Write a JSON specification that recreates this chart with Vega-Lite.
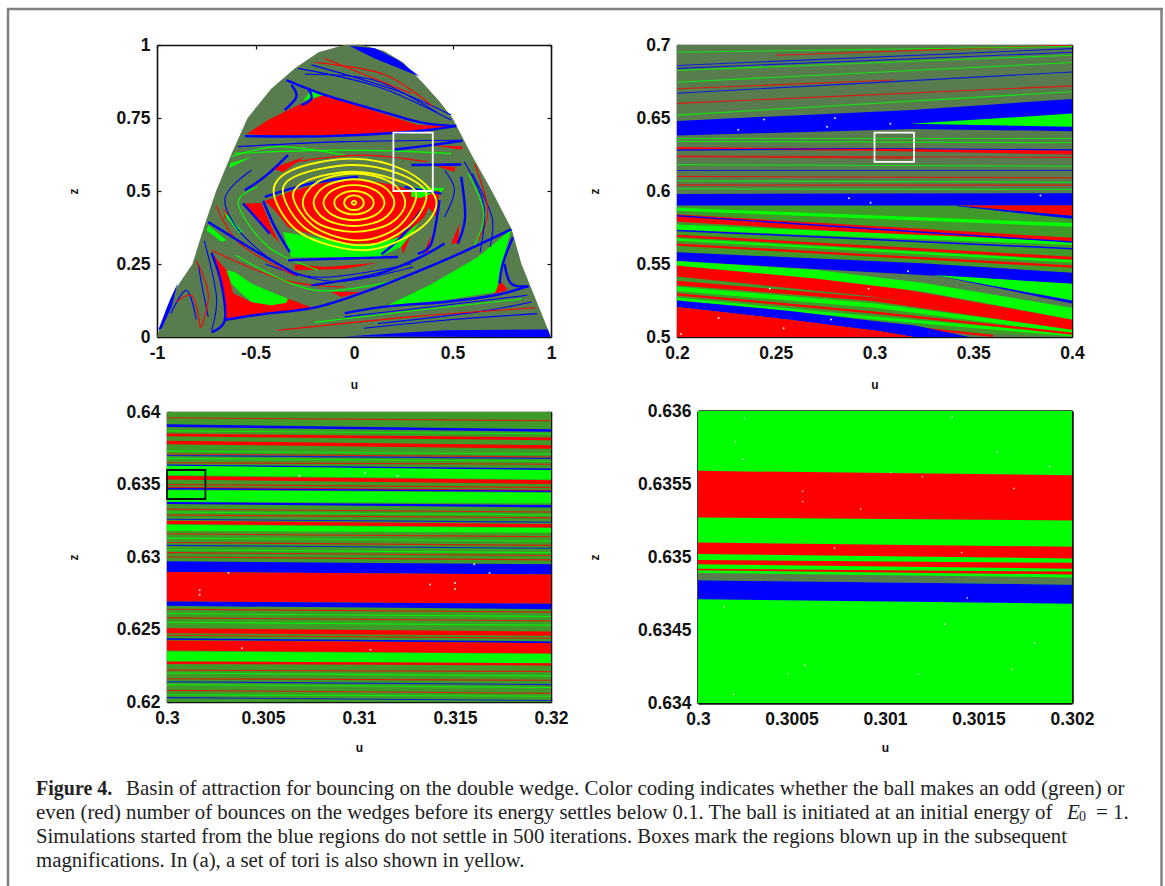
{"$schema":"https://vega.github.io/schema/vega-lite/v6.json","padding":{"left":5,"top":7,"right":0,"bottom":0},"background":"white","columns":2,"bounds":"flush","spacing":{"column":126,"row":74},
"config":{"view":{"stroke":null},"axis":{"labelFont":"Liberation Sans","labelFontWeight":"bold","labelFontSize":17.5,"labelColor":"#111","tickColor":"#111","tickSize":-4,"tickWidth":1.2,"domainColor":"#111","domainWidth":1.6,"grid":false,"zindex":1,"titleFont":"Liberation Sans","titleFontSize":12,"titleFontWeight":"bold","titleColor":"#111","labelPadding":11,"labelFlush":false,"labelOverlap":false,"labelBound":false,"labelExpr":"''+datum.value"}},
"datasets":{
"aPoly":[
{"s":"a0","c":"noise","i":0,"u":-1,"z":0},{"s":"a0","c":"noise","i":1,"u":-0.95,"z":0.1},{"s":"a0","c":"noise","i":2,"u":-0.9,"z":0.17},{"s":"a0","c":"noise","i":3,"u":-0.82,"z":0.25},{"s":"a0","c":"noise","i":4,"u":-0.76,"z":0.38},{"s":"a0","c":"noise","i":5,"u":-0.7,"z":0.5},{"s":"a0","c":"noise","i":6,"u":-0.62,"z":0.63},{"s":"a0","c":"noise","i":7,"u":-0.54,"z":0.75},{"s":"a0","c":"noise","i":8,"u":-0.42,"z":0.85},{"s":"a0","c":"noise","i":9,"u":-0.3,"z":0.92},{"s":"a0","c":"noise","i":10,"u":-0.18,"z":0.975},{"s":"a0","c":"noise","i":11,"u":-0.05,"z":1},{"s":"a0","c":"noise","i":12,"u":0.05,"z":0.998},{"s":"a0","c":"noise","i":13,"u":0.15,"z":0.98},{"s":"a0","c":"noise","i":14,"u":0.25,"z":0.94},{"s":"a0","c":"noise","i":15,"u":0.35,"z":0.87},{"s":"a0","c":"noise","i":16,"u":0.43,"z":0.81},{"s":"a0","c":"noise","i":17,"u":0.5,"z":0.75},{"s":"a0","c":"noise","i":18,"u":0.6,"z":0.62},{"s":"a0","c":"noise","i":19,"u":0.7,"z":0.5},{"s":"a0","c":"noise","i":20,"u":0.8,"z":0.37},{"s":"a0","c":"noise","i":21,"u":0.85,"z":0.25},{"s":"a0","c":"noise","i":22,"u":0.94,"z":0.1},{"s":"a0","c":"noise","i":23,"u":1,"z":0},
{"s":"a1","c":"none","i":0,"u":-0.022,"z":0.997},{"s":"a1","c":"none","i":1,"u":0.105,"z":0.989},{"s":"a1","c":"none","i":2,"u":0.223,"z":0.949},{"s":"a1","c":"none","i":3,"u":0.333,"z":0.892},{"s":"a1","c":"none","i":4,"u":0.206,"z":0.926},{"s":"a1","c":"none","i":5,"u":0.105,"z":0.954},
{"s":"a2","c":"none","i":0,"u":-0.047,"z":0.002},{"s":"a2","c":"none","i":1,"u":0.46,"z":0.023},{"s":"a2","c":"none","i":2,"u":0.984,"z":0.026},{"s":"a2","c":"none","i":3,"u":0.997,"z":0},
{"s":"a3","c":"none","i":0,"u":-0.994,"z":0.023},{"s":"a3","c":"none","i":1,"u":-0.935,"z":0.126},{"s":"a3","c":"none","i":2,"u":-0.896,"z":0.183},{"s":"a3","c":"none","i":3,"u":-0.926,"z":0.103},{"s":"a3","c":"none","i":4,"u":-0.977,"z":0.029},
{"s":"a4","c":"even","i":0,"u":-0.546,"z":0.695},{"s":"a4","c":"even","i":1,"u":-0.436,"z":0.743},{"s":"a4","c":"even","i":2,"u":-0.284,"z":0.794},{"s":"a4","c":"even","i":3,"u":-0.157,"z":0.829},{"s":"a4","c":"even","i":4,"u":-0.047,"z":0.806},{"s":"a4","c":"even","i":5,"u":0.088,"z":0.777},{"s":"a4","c":"even","i":6,"u":0.206,"z":0.752},{"s":"a4","c":"even","i":7,"u":0.324,"z":0.726},{"s":"a4","c":"even","i":8,"u":0.51,"z":0.723},{"s":"a4","c":"even","i":9,"u":0.324,"z":0.709},{"s":"a4","c":"even","i":10,"u":0.122,"z":0.697},{"s":"a4","c":"even","i":11,"u":-0.132,"z":0.692},{"s":"a4","c":"even","i":12,"u":-0.385,"z":0.69},
{"s":"a5","c":"odd","i":0,"u":-0.259,"z":0.809},{"s":"a5","c":"odd","i":1,"u":-0.216,"z":0.846},{"s":"a5","c":"odd","i":2,"u":-0.154,"z":0.829},
{"s":"a6","c":"even","i":0,"u":-0.723,"z":0.288},{"s":"a6","c":"even","i":1,"u":-0.647,"z":0.229},{"s":"a6","c":"even","i":2,"u":-0.613,"z":0.149},{"s":"a6","c":"even","i":3,"u":-0.521,"z":0.12},{"s":"a6","c":"even","i":4,"u":-0.419,"z":0.109},{"s":"a6","c":"even","i":5,"u":-0.335,"z":0.131},{"s":"a6","c":"even","i":6,"u":-0.208,"z":0.099},{"s":"a6","c":"even","i":7,"u":-0.453,"z":0.08},{"s":"a6","c":"even","i":8,"u":-0.656,"z":0.055},{"s":"a6","c":"even","i":9,"u":-0.664,"z":0.149},
{"s":"a7","c":"odd","i":0,"u":-0.647,"z":0.229},{"s":"a7","c":"odd","i":1,"u":-0.605,"z":0.223},{"s":"a7","c":"odd","i":2,"u":-0.521,"z":0.183},{"s":"a7","c":"odd","i":3,"u":-0.419,"z":0.154},{"s":"a7","c":"odd","i":4,"u":-0.335,"z":0.131},{"s":"a7","c":"odd","i":5,"u":-0.343,"z":0.117},{"s":"a7","c":"odd","i":6,"u":-0.419,"z":0.109},{"s":"a7","c":"odd","i":7,"u":-0.521,"z":0.12},{"s":"a7","c":"odd","i":8,"u":-0.58,"z":0.154},{"s":"a7","c":"odd","i":9,"u":-0.622,"z":0.183},
{"s":"a8","c":"odd","i":0,"u":0.172,"z":0.109},{"s":"a8","c":"odd","i":1,"u":0.392,"z":0.181},{"s":"a8","c":"odd","i":2,"u":0.629,"z":0.274},{"s":"a8","c":"odd","i":3,"u":0.798,"z":0.368},{"s":"a8","c":"odd","i":4,"u":0.755,"z":0.263},{"s":"a8","c":"odd","i":5,"u":0.722,"z":0.154},{"s":"a8","c":"odd","i":6,"u":0.46,"z":0.126},
{"s":"a9","c":"even","i":0,"u":0.713,"z":0.146},{"s":"a9","c":"even","i":1,"u":0.744,"z":0.192},{"s":"a9","c":"even","i":2,"u":0.781,"z":0.162},
{"s":"b0","c":"odd","i":0,"u":-0.36,"z":0.36},{"s":"b0","c":"odd","i":1,"u":-0.216,"z":0.343},{"s":"b0","c":"odd","i":2,"u":-0.047,"z":0.32},{"s":"b0","c":"odd","i":3,"u":0.122,"z":0.32},{"s":"b0","c":"odd","i":4,"u":0.257,"z":0.349},{"s":"b0","c":"odd","i":5,"u":0.358,"z":0.411},{"s":"b0","c":"odd","i":6,"u":0.384,"z":0.463},{"s":"b0","c":"odd","i":7,"u":0.316,"z":0.377},{"s":"b0","c":"odd","i":8,"u":0.24,"z":0.309},{"s":"b0","c":"odd","i":9,"u":0.122,"z":0.272},{"s":"b0","c":"odd","i":10,"u":-0.047,"z":0.274},{"s":"b0","c":"odd","i":11,"u":-0.318,"z":0.272},{"s":"b0","c":"odd","i":12,"u":-0.343,"z":0.32},
{"s":"b1","c":"even","i":0,"u":-0.453,"z":0.466},{"s":"b1","c":"even","i":1,"u":-0.301,"z":0.503},{"s":"b1","c":"even","i":2,"u":-0.149,"z":0.528},{"s":"b1","c":"even","i":3,"u":0.02,"z":0.543},{"s":"b1","c":"even","i":4,"u":0.206,"z":0.52},{"s":"b1","c":"even","i":5,"u":0.401,"z":0.48},{"s":"b1","c":"even","i":6,"u":0.358,"z":0.411},{"s":"b1","c":"even","i":7,"u":0.257,"z":0.349},{"s":"b1","c":"even","i":8,"u":0.122,"z":0.32},{"s":"b1","c":"even","i":9,"u":-0.047,"z":0.32},{"s":"b1","c":"even","i":10,"u":-0.216,"z":0.352},{"s":"b1","c":"even","i":11,"u":-0.335,"z":0.377},{"s":"b1","c":"even","i":12,"u":-0.402,"z":0.434},
{"s":"b2","c":"odd","i":0,"u":0.291,"z":0.514},{"s":"b2","c":"odd","i":1,"u":0.46,"z":0.51},{"s":"b2","c":"odd","i":2,"u":0.41,"z":0.47},{"s":"b2","c":"odd","i":3,"u":0.29,"z":0.48},
{"s":"b3","c":"even","i":0,"u":-0.563,"z":0.457},{"s":"b3","c":"even","i":1,"u":-0.47,"z":0.459},{"s":"b3","c":"even","i":2,"u":-0.419,"z":0.377},{"s":"b3","c":"even","i":3,"u":-0.377,"z":0.32},{"s":"b3","c":"even","i":4,"u":-0.461,"z":0.383},
{"s":"b4","c":"even","i":0,"u":0.316,"z":0.469},{"s":"b4","c":"even","i":1,"u":0.434,"z":0.503},{"s":"b4","c":"even","i":2,"u":0.417,"z":0.411},{"s":"b4","c":"even","i":3,"u":0.375,"z":0.446},
{"s":"b5","c":"even","i":0,"u":-0.301,"z":0.249},{"s":"b5","c":"even","i":1,"u":-0.149,"z":0.24},{"s":"b5","c":"even","i":2,"u":0.122,"z":0.254},{"s":"b5","c":"even","i":3,"u":-0.047,"z":0.233},{"s":"b5","c":"even","i":4,"u":-0.301,"z":0.229},
{"s":"b6","c":"even","i":0,"u":0.392,"z":0.657},{"s":"b6","c":"even","i":1,"u":0.553,"z":0.652},{"s":"b6","c":"even","i":2,"u":0.544,"z":0.642},
{"s":"b7","c":"even","i":0,"u":0.417,"z":0.586},{"s":"b7","c":"even","i":1,"u":0.514,"z":0.583},{"s":"b7","c":"even","i":2,"u":0.51,"z":0.566},
{"s":"b8","c":"even","i":0,"u":0.536,"z":0.389},{"s":"b8","c":"even","i":1,"u":0.493,"z":0.32},{"s":"b8","c":"even","i":2,"u":0.527,"z":0.32},
{"s":"b9","c":"even","i":0,"u":-0.419,"z":0.577},{"s":"b9","c":"even","i":1,"u":-0.25,"z":0.617},{"s":"b9","c":"even","i":2,"u":-0.36,"z":0.565},
{"s":"c0","c":"even","i":0,"u":-0.115,"z":0.154},{"s":"c0","c":"even","i":1,"u":0.037,"z":0.154},{"s":"c0","c":"even","i":2,"u":-0.064,"z":0.137},
{"s":"c1","c":"even","i":0,"u":-0.665,"z":0.44},{"s":"c1","c":"even","i":1,"u":-0.64,"z":0.42},{"s":"c1","c":"even","i":2,"u":-0.655,"z":0.405},
{"s":"c2","c":"even","i":0,"u":0.358,"z":0.291},{"s":"c2","c":"even","i":1,"u":0.392,"z":0.354},{"s":"c2","c":"even","i":2,"u":0.375,"z":0.286},
{"s":"c3","c":"even","i":0,"u":0.24,"z":0.309},{"s":"c3","c":"even","i":1,"u":0.29,"z":0.349},{"s":"c3","c":"even","i":2,"u":0.25,"z":0.285},
{"s":"c4","c":"odd","i":0,"u":-0.74,"z":0.383},{"s":"c4","c":"odd","i":1,"u":-0.647,"z":0.331},{"s":"c4","c":"odd","i":2,"u":-0.673,"z":0.326},{"s":"c4","c":"odd","i":3,"u":-0.749,"z":0.366},
{"s":"c5","c":"odd","i":0,"u":-0.665,"z":0.434},{"s":"c5","c":"odd","i":1,"u":-0.563,"z":0.36},{"s":"c5","c":"odd","i":2,"u":-0.58,"z":0.354},{"s":"c5","c":"odd","i":3,"u":-0.648,"z":0.411},
{"s":"c6","c":"odd","i":0,"u":-0.63,"z":0.594},{"s":"c6","c":"odd","i":1,"u":-0.52,"z":0.617},{"s":"c6","c":"odd","i":2,"u":-0.63,"z":0.58}
],
"aThick":[
{"l":"L1","i":0,"u":-0.343,"z":0.88},{"l":"L1","i":1,"u":-0.149,"z":0.829},{"l":"L1","i":2,"u":0.054,"z":0.789},{"l":"L1","i":3,"u":0.257,"z":0.749},{"l":"L1","i":4,"u":0.392,"z":0.729},{"l":"L1","i":5,"u":0.519,"z":0.723},
{"l":"L2","i":0,"u":-0.554,"z":0.688},{"l":"L2","i":1,"u":-0.132,"z":0.688},{"l":"L2","i":2,"u":0.291,"z":0.703},{"l":"L2","i":3,"u":0.519,"z":0.722},
{"l":"L3","i":0,"u":0.206,"z":0.642},{"l":"L3","i":1,"u":0.392,"z":0.657},{"l":"L3","i":2,"u":0.55,"z":0.672},
{"l":"L4","i":0,"u":0.291,"z":0.589},{"l":"L4","i":1,"u":0.544,"z":0.591},
{"l":"L5","i":0,"u":-0.554,"z":0.503},{"l":"L5","i":1,"u":-0.453,"z":0.549},{"l":"L5","i":2,"u":-0.335,"z":0.623},
{"l":"L6","i":0,"u":-0.563,"z":0.457},{"l":"L6","i":1,"u":-0.487,"z":0.4},{"l":"L6","i":2,"u":-0.428,"z":0.354},
{"l":"L7","i":0,"u":-0.461,"z":0.466},{"l":"L7","i":1,"u":-0.402,"z":0.377},{"l":"L7","i":2,"u":-0.326,"z":0.291},
{"l":"L8","i":0,"u":-0.74,"z":0.394},{"l":"L8","i":1,"u":-0.521,"z":0.303},{"l":"L8","i":2,"u":-0.284,"z":0.211},
{"l":"L9","i":0,"u":-0.723,"z":0.288},{"l":"L9","i":1,"u":-0.673,"z":0.183},{"l":"L9","i":2,"u":-0.656,"z":0.057},{"l":"L9","i":3,"u":-0.723,"z":0.017},
{"l":"L10","i":0,"u":-0.656,"z":0.059},{"l":"L10","i":1,"u":-0.47,"z":0.078},{"l":"L10","i":2,"u":-0.183,"z":0.103},{"l":"L10","i":3,"u":0.122,"z":0.171},{"l":"L10","i":4,"u":0.46,"z":0.263},{"l":"L10","i":5,"u":0.798,"z":0.369},
{"l":"L11","i":0,"u":0.885,"z":0.174},{"l":"L11","i":1,"u":0.713,"z":0.143},{"l":"L11","i":2,"u":0.46,"z":0.12},{"l":"L11","i":3,"u":0.172,"z":0.105},{"l":"L11","i":4,"u":-0.047,"z":0.082},
{"l":"L12","i":0,"u":0.806,"z":0.341},{"l":"L12","i":1,"u":0.755,"z":0.251},{"l":"L12","i":2,"u":0.739,"z":0.183},
{"l":"L13","i":0,"u":0.544,"z":0.549},{"l":"L13","i":1,"u":0.564,"z":0.411},{"l":"L13","i":2,"u":0.527,"z":0.32},
{"l":"L14","i":0,"u":0.434,"z":0.469},{"l":"L14","i":1,"u":0.392,"z":0.32},{"l":"L14","i":2,"u":0.324,"z":0.286},
{"l":"L15","i":0,"u":0.341,"z":0.434},{"l":"L15","i":1,"u":0.24,"z":0.343},{"l":"L15","i":2,"u":0.139,"z":0.283},
{"l":"L16","i":0,"u":-0.335,"z":0.263},{"l":"L16","i":1,"u":-0.047,"z":0.269},{"l":"L16","i":2,"u":0.223,"z":0.274},
{"l":"L17","i":0,"u":-0.216,"z":0.177},{"l":"L17","i":1,"u":0.122,"z":0.217},{"l":"L17","i":2,"u":0.324,"z":0.269},{"l":"L17","i":3,"u":0.46,"z":0.32},
{"l":"L18","i":0,"u":-0.453,"z":0.48},{"l":"L18","i":1,"u":-0.216,"z":0.526},{"l":"L18","i":2,"u":0.02,"z":0.549},
{"l":"L19","i":0,"u":0.257,"z":0.514},{"l":"L19","i":1,"u":0.443,"z":0.491},
{"l":"L20","i":0,"u":-0.318,"z":0.863},{"l":"L20","i":1,"u":-0.292,"z":0.823},{"l":"L20","i":2,"u":-0.352,"z":0.777},
{"l":"L21","i":0,"u":-0.233,"z":0.852},{"l":"L21","i":1,"u":-0.216,"z":0.817},{"l":"L21","i":2,"u":-0.267,"z":0.794},
{"l":"L22","i":0,"u":0.764,"z":0.251},{"l":"L22","i":1,"u":0.798,"z":0.183},{"l":"L22","i":2,"u":0.885,"z":0.174}
],
"aThin":[
{"l":"T1","c":"none","i":0,"u":-0.284,"z":0.92},{"l":"T1","c":"none","i":1,"u":0.122,"z":0.857},{"l":"T1","c":"none","i":2,"u":0.493,"z":0.743},
{"l":"T2","c":"none","i":0,"u":-0.216,"z":0.932},{"l":"T2","c":"none","i":1,"u":0.206,"z":0.846},{"l":"T2","c":"none","i":2,"u":0.493,"z":0.76},
{"l":"T3","c":"even","i":0,"u":-0.149,"z":0.954},{"l":"T3","c":"even","i":1,"u":0.291,"z":0.834},
{"l":"T4","c":"none","i":0,"u":-0.59,"z":0.652},{"l":"T4","c":"none","i":1,"u":-0.047,"z":0.669},{"l":"T4","c":"none","i":2,"u":0.544,"z":0.674},
{"l":"T5","c":"odd","i":0,"u":-0.605,"z":0.629},{"l":"T5","c":"odd","i":1,"u":-0.047,"z":0.64},{"l":"T5","c":"odd","i":2,"u":0.493,"z":0.629},
{"l":"T6","c":"none","i":0,"u":-0.79,"z":0.25},{"l":"T6","c":"none","i":1,"u":-0.774,"z":0.183},{"l":"T6","c":"none","i":2,"u":-0.74,"z":0.069},
{"l":"T7","c":"none","i":0,"u":-0.76,"z":0.33},{"l":"T7","c":"none","i":1,"u":-0.698,"z":0.137},{"l":"T7","c":"none","i":2,"u":-0.723,"z":0.023},
{"l":"T8","c":"even","i":0,"u":-0.8,"z":0.26},{"l":"T8","c":"even","i":1,"u":-0.74,"z":0.149},{"l":"T8","c":"even","i":2,"u":-0.774,"z":0.034},
{"l":"T9","c":"none","i":0,"u":-0.047,"z":0.069},{"l":"T9","c":"none","i":1,"u":0.46,"z":0.109},{"l":"T9","c":"none","i":2,"u":0.88,"z":0.143},
{"l":"T10","c":"none","i":0,"u":0.122,"z":0.046},{"l":"T10","c":"none","i":1,"u":0.629,"z":0.086},{"l":"T10","c":"none","i":2,"u":0.9,"z":0.12},
{"l":"T11","c":"even","i":0,"u":-0.385,"z":0.023},{"l":"T11","c":"even","i":1,"u":0.291,"z":0.069},{"l":"T11","c":"even","i":2,"u":0.92,"z":0.1},
{"l":"T12","c":"none","i":0,"u":0.6,"z":0.56},{"l":"T12","c":"none","i":1,"u":0.7,"z":0.411},{"l":"T12","c":"none","i":2,"u":0.69,"z":0.309},
{"l":"T13","c":"even","i":0,"u":0.612,"z":0.594},{"l":"T13","c":"even","i":1,"u":0.679,"z":0.434},{"l":"T13","c":"even","i":2,"u":0.629,"z":0.331},
{"l":"T14","c":"none","i":0,"u":-0.521,"z":0.571},{"l":"T14","c":"none","i":1,"u":-0.656,"z":0.469},{"l":"T14","c":"none","i":2,"u":-0.521,"z":0.32},{"l":"T14","c":"none","i":3,"u":-0.216,"z":0.206},{"l":"T14","c":"none","i":4,"u":0.291,"z":0.251},
{"l":"T15","c":"odd","i":0,"u":-0.487,"z":0.514},{"l":"T15","c":"odd","i":1,"u":-0.588,"z":0.457},{"l":"T15","c":"odd","i":2,"u":-0.436,"z":0.309},{"l":"T15","c":"odd","i":3,"u":-0.183,"z":0.229},
{"l":"T16","c":"even","i":0,"u":-0.723,"z":0.297},{"l":"T16","c":"even","i":1,"u":-0.352,"z":0.194},{"l":"T16","c":"even","i":2,"u":-0.047,"z":0.171},
{"l":"T18","c":"none","i":0,"u":0.46,"z":0.411},{"l":"T18","c":"none","i":1,"u":0.51,"z":0.503},{"l":"T18","c":"none","i":2,"u":0.46,"z":0.571},
{"l":"T19","c":"odd","i":0,"u":-0.622,"z":0.617},{"l":"T19","c":"odd","i":1,"u":-0.385,"z":0.652},{"l":"T19","c":"odd","i":2,"u":-0.047,"z":0.623},
{"l":"T20","c":"even","i":0,"u":-0.301,"z":0.6},{"l":"T20","c":"even","i":1,"u":0.037,"z":0.623},{"l":"T20","c":"even","i":2,"u":0.375,"z":0.6},
{"l":"T21","c":"none","i":0,"u":-0.25,"z":0.9},{"l":"T21","c":"none","i":1,"u":0.1,"z":0.88},{"l":"T21","c":"none","i":2,"u":0.42,"z":0.77},
{"l":"T22","c":"even","i":0,"u":-0.2,"z":0.94},{"l":"T22","c":"even","i":1,"u":0.15,"z":0.9},{"l":"T22","c":"even","i":2,"u":0.4,"z":0.79},
{"l":"T24","c":"none","i":0,"u":-0.93,"z":0.08},{"l":"T24","c":"none","i":1,"u":-0.85,"z":0.16},{"l":"T24","c":"none","i":2,"u":-0.8,"z":0.06},
{"l":"T25","c":"even","i":0,"u":-0.9,"z":0.12},{"l":"T25","c":"even","i":1,"u":-0.82,"z":0.14},{"l":"T25","c":"even","i":2,"u":-0.78,"z":0.03},
{"l":"T26","c":"none","i":0,"u":0.05,"z":0.03},{"l":"T26","c":"none","i":1,"u":0.5,"z":0.06},{"l":"T26","c":"none","i":2,"u":0.93,"z":0.08},
{"l":"T27","c":"odd","i":0,"u":-0.2,"z":0.05},{"l":"T27","c":"odd","i":1,"u":0.3,"z":0.09},{"l":"T27","c":"odd","i":2,"u":0.85,"z":0.13},
{"l":"T28","c":"none","i":0,"u":0.56,"z":0.6},{"l":"T28","c":"none","i":1,"u":0.66,"z":0.45},{"l":"T28","c":"none","i":2,"u":0.64,"z":0.29},
{"l":"T29","c":"odd","i":0,"u":0.58,"z":0.56},{"l":"T29","c":"odd","i":1,"u":0.66,"z":0.42},{"l":"T29","c":"odd","i":2,"u":0.6,"z":0.3},
{"l":"T30","c":"none","i":0,"u":-0.45,"z":0.25},{"l":"T30","c":"none","i":1,"u":-0.1,"z":0.19},{"l":"T30","c":"none","i":2,"u":0.3,"z":0.24},
{"l":"T31","c":"odd","i":0,"u":-0.6,"z":0.28},{"l":"T31","c":"odd","i":1,"u":-0.2,"z":0.16},{"l":"T31","c":"odd","i":2,"u":0.25,"z":0.2},
{"l":"T32","c":"even","i":0,"u":-0.7,"z":0.45},{"l":"T32","c":"even","i":1,"u":-0.58,"z":0.32},{"l":"T32","c":"even","i":2,"u":-0.3,"z":0.21}
],
"aTori":[
{"l":"R0","i":0,"u":0.012,"z":0.46},{"l":"R0","i":1,"u":0,"z":0.467},{"l":"R0","i":2,"u":-0.012,"z":0.46},{"l":"R0","i":3,"u":0,"z":0.453},
{"l":"R1","i":0,"u":0.05,"z":0.46},{"l":"R1","i":1,"u":0.035,"z":0.478},{"l":"R1","i":2,"u":0,"z":0.485},{"l":"R1","i":3,"u":-0.035,"z":0.478},{"l":"R1","i":4,"u":-0.05,"z":0.46},{"l":"R1","i":5,"u":-0.035,"z":0.442},{"l":"R1","i":6,"u":0,"z":0.435},{"l":"R1","i":7,"u":0.035,"z":0.442},
{"l":"R2","i":0,"u":0.1,"z":0.46},{"l":"R2","i":1,"u":0.07,"z":0.488},{"l":"R2","i":2,"u":0,"z":0.5},{"l":"R2","i":3,"u":-0.07,"z":0.488},{"l":"R2","i":4,"u":-0.1,"z":0.46},{"l":"R2","i":5,"u":-0.07,"z":0.432},{"l":"R2","i":6,"u":0,"z":0.42},{"l":"R2","i":7,"u":0.07,"z":0.432},
{"l":"R3","i":0,"u":0.155,"z":0.46},{"l":"R3","i":1,"u":0.11,"z":0.502},{"l":"R3","i":2,"u":0,"z":0.52},{"l":"R3","i":3,"u":-0.11,"z":0.502},{"l":"R3","i":4,"u":-0.155,"z":0.46},{"l":"R3","i":5,"u":-0.11,"z":0.418},{"l":"R3","i":6,"u":0,"z":0.4},{"l":"R3","i":7,"u":0.11,"z":0.418},
{"l":"R4","i":0,"u":0.205,"z":0.46},{"l":"R4","i":1,"u":0.145,"z":0.517},{"l":"R4","i":2,"u":0,"z":0.54},{"l":"R4","i":3,"u":-0.145,"z":0.517},{"l":"R4","i":4,"u":-0.205,"z":0.46},{"l":"R4","i":5,"u":-0.145,"z":0.403},{"l":"R4","i":6,"u":0,"z":0.38},{"l":"R4","i":7,"u":0.145,"z":0.403},
{"l":"R5","i":0,"u":0.26,"z":0.46},{"l":"R5","i":1,"u":0.184,"z":0.531},{"l":"R5","i":2,"u":0,"z":0.56},{"l":"R5","i":3,"u":-0.184,"z":0.531},{"l":"R5","i":4,"u":-0.26,"z":0.46},{"l":"R5","i":5,"u":-0.184,"z":0.389},{"l":"R5","i":6,"u":0,"z":0.36},{"l":"R5","i":7,"u":0.184,"z":0.389},
{"l":"R6","i":0,"u":-0.309,"z":0.48},{"l":"R6","i":1,"u":-0.233,"z":0.537},{"l":"R6","i":2,"u":-0.014,"z":0.566},{"l":"R6","i":3,"u":0.189,"z":0.543},{"l":"R6","i":4,"u":0.316,"z":0.491},{"l":"R6","i":5,"u":0.223,"z":0.377},{"l":"R6","i":6,"u":0.02,"z":0.331},{"l":"R6","i":7,"u":-0.2,"z":0.377},
{"l":"R7","i":0,"u":-0.36,"z":0.49},{"l":"R7","i":1,"u":-0.284,"z":0.554},{"l":"R7","i":2,"u":-0.014,"z":0.589},{"l":"R7","i":3,"u":0.223,"z":0.56},{"l":"R7","i":4,"u":0.367,"z":0.49},{"l":"R7","i":5,"u":0.274,"z":0.377},{"l":"R7","i":6,"u":0.054,"z":0.314},{"l":"R7","i":7,"u":-0.233,"z":0.366},
{"l":"R8","i":0,"u":-0.407,"z":0.49},{"l":"R8","i":1,"u":-0.318,"z":0.571},{"l":"R8","i":2,"u":-0.014,"z":0.611},{"l":"R8","i":3,"u":0.257,"z":0.571},{"l":"R8","i":4,"u":0.417,"z":0.469},{"l":"R8","i":5,"u":0.324,"z":0.366},{"l":"R8","i":6,"u":0.054,"z":0.297},{"l":"R8","i":7,"u":-0.267,"z":0.354}
],
"bBand":[
{"b":"n","c":"noise","u":0.2,"z":0.5,"z2":0.7},{"b":"n","c":"noise","u":0.4,"z":0.5,"z2":0.7},
{"b":"m1","c":"mix","u":0.2,"z":0.5205,"z2":0.5415},{"b":"m1","c":"mix","u":0.3,"z":0.505,"z2":0.527},{"b":"m1","c":"mix","u":0.4,"z":0.5,"z2":0.512},
{"b":"m2","c":"mix","u":0.2,"z":0.558,"z2":0.59},{"b":"m2","c":"mix","u":0.4,"z":0.544,"z2":0.59},
{"b":"b1","c":"none","u":0.2,"z":0.638,"z2":0.648},{"b":"b1","c":"none","u":0.319,"z":0.6425,"z2":0.6555},{"b":"b1","c":"none","u":0.4,"z":0.641,"z2":0.663},
{"b":"b2","c":"odd","u":0.318,"z":0.646,"z2":0.646},{"b":"b2","c":"odd","u":0.4,"z":0.644,"z2":0.653},
{"b":"b3","c":"none","u":0.2,"z":0.59,"z2":0.598},{"b":"b3","c":"none","u":0.4,"z":0.59,"z2":0.5985},
{"b":"b4","c":"even","u":0.342,"z":0.59,"z2":0.59},{"b":"b4","c":"even","u":0.4,"z":0.583,"z2":0.59},
{"b":"b5","c":"none","u":0.342,"z":0.5895,"z2":0.59},{"b":"b5","c":"none","u":0.4,"z":0.581,"z2":0.583},
{"b":"b6","c":"even","u":0.2,"z":0.579,"z2":0.584},{"b":"b6","c":"even","u":0.4,"z":0.563,"z2":0.568},
{"b":"b7","c":"none","u":0.2,"z":0.552,"z2":0.558},{"b":"b7","c":"none","u":0.324,"z":0.5425,"z2":0.5505},{"b":"b7","c":"none","u":0.4,"z":0.5365,"z2":0.544},
{"b":"b8","c":"even","u":0.2,"z":0.5415,"z2":0.549},{"b":"b8","c":"even","u":0.297,"z":0.528,"z2":0.537},{"b":"b8","c":"even","u":0.4,"z":0.506,"z2":0.512},
{"b":"b9","c":"odd","u":0.2,"z":0.549,"z2":0.552},{"b":"b9","c":"odd","u":0.27,"z":0.54,"z2":0.546},{"b":"b9","c":"odd","u":0.325,"z":0.531,"z2":0.537},{"b":"b9","c":"odd","u":0.4,"z":0.512,"z2":0.52},
{"b":"b10","c":"odd","u":0.33,"z":0.5425,"z2":0.5425},{"b":"b10","c":"odd","u":0.4,"z":0.525,"z2":0.5365},
{"b":"b11","c":"none","u":0.33,"z":0.5425,"z2":0.5425},{"b":"b11","c":"none","u":0.4,"z":0.523,"z2":0.525},
{"b":"s1","c":"odd","u":0.2,"z":0.5315,"z2":0.5345},{"b":"s1","c":"odd","u":0.3,"z":0.52,"z2":0.523},{"b":"s1","c":"odd","u":0.4,"z":0.5025,"z2":0.5055},
{"b":"s2","c":"odd","u":0.2,"z":0.525,"z2":0.527},{"b":"s2","c":"odd","u":0.3,"z":0.512,"z2":0.514},{"b":"s2","c":"odd","u":0.4,"z":0.5005,"z2":0.5025},
{"b":"s3","c":"even","u":0.2,"z":0.5355,"z2":0.5385},{"b":"s3","c":"even","u":0.3,"z":0.5245,"z2":0.527},{"b":"s3","c":"even","u":0.4,"z":0.505,"z2":0.508},
{"b":"s4","c":"even","u":0.2,"z":0.5285,"z2":0.53},{"b":"s4","c":"even","u":0.3,"z":0.516,"z2":0.5175},{"b":"s4","c":"even","u":0.4,"z":0.5015,"z2":0.503},
{"b":"s5","c":"even","u":0.2,"z":0.522,"z2":0.5235},{"b":"s5","c":"even","u":0.3,"z":0.5085,"z2":0.51},{"b":"s5","c":"even","u":0.36,"z":0.5,"z2":0.5015},
{"b":"b12","c":"none","u":0.2,"z":0.5205,"z2":0.525},{"b":"b12","c":"none","u":0.256,"z":0.512,"z2":0.518},{"b":"b12","c":"none","u":0.303,"z":0.504,"z2":0.5105},{"b":"b12","c":"none","u":0.32,"z":0.5,"z2":0.508},{"b":"b12","c":"none","u":0.348,"z":0.5,"z2":0.5},
{"b":"b13","c":"even","u":0.2,"z":0.5,"z2":0.5205},{"b":"b13","c":"even","u":0.256,"z":0.5,"z2":0.512},{"b":"b13","c":"even","u":0.303,"z":0.5,"z2":0.504},{"b":"b13","c":"even","u":0.32,"z":0.5,"z2":0.5},
{"b":"k1","c":"odd","u":0.2,"z":0.5735,"z2":0.577},{"b":"k1","c":"odd","u":0.4,"z":0.563,"z2":0.5655},
{"b":"k2","c":"odd","u":0.2,"z":0.5865,"z2":0.5885},{"b":"k2","c":"odd","u":0.4,"z":0.5755,"z2":0.578},
{"b":"k3","c":"none","u":0.2,"z":0.5825,"z2":0.5835},{"b":"k3","c":"none","u":0.4,"z":0.5645,"z2":0.5655},
{"b":"k4","c":"even","u":0.2,"z":0.5685,"z2":0.57},{"b":"k4","c":"even","u":0.4,"z":0.553,"z2":0.555},
{"b":"k5","c":"even","u":0.2,"z":0.5625,"z2":0.564},{"b":"k5","c":"even","u":0.4,"z":0.5475,"z2":0.549},
{"b":"k6","c":"none","u":0.2,"z":0.5725,"z2":0.5735},{"b":"k6","c":"none","u":0.4,"z":0.56,"z2":0.561},
{"b":"k7","c":"odd","u":0.2,"z":0.566,"z2":0.5675},{"b":"k7","c":"odd","u":0.4,"z":0.551,"z2":0.5525},
{"b":"q1","c":"even","u":0.2,"z":0.6285,"z2":0.63},{"b":"q1","c":"even","u":0.3,"z":0.6275,"z2":0.629},{"b":"q1","c":"even","u":0.4,"z":0.625,"z2":0.6277},
{"b":"q2","c":"none","u":0.2,"z":0.6275,"z2":0.6285},{"b":"q2","c":"none","u":0.3,"z":0.629,"z2":0.6295},{"b":"q2","c":"none","u":0.4,"z":0.6277,"z2":0.6286}
],
"bThin":[
{"l":"a","c":"none","u":0.2,"z":0.686},{"l":"a","c":"none","u":0.4,"z":0.6975},
{"l":"b","c":"none","u":0.2,"z":0.684},{"l":"b","c":"none","u":0.4,"z":0.695},
{"l":"c","c":"odd","u":0.2,"z":0.6825},{"l":"c","c":"odd","u":0.4,"z":0.693},
{"l":"d","c":"none","u":0.2,"z":0.667},{"l":"d","c":"none","u":0.4,"z":0.6815},
{"l":"e","c":"even","u":0.2,"z":0.67},{"l":"e","c":"even","u":0.31,"z":0.676},
{"l":"f","c":"even","u":0.25,"z":0.693},{"l":"f","c":"even","u":0.4,"z":0.7},
{"l":"g","c":"odd","u":0.2,"z":0.695},{"l":"g","c":"odd","u":0.4,"z":0.699},
{"l":"h","c":"even","u":0.2,"z":0.66},{"l":"h","c":"even","u":0.4,"z":0.672},
{"l":"i","c":"odd","u":0.2,"z":0.652},{"l":"i","c":"odd","u":0.4,"z":0.668},
{"l":"j","c":"odd","u":0.2,"z":0.6745},{"l":"j","c":"odd","u":0.4,"z":0.688},
{"l":"k","c":"odd","u":0.2,"z":0.636},{"l":"k","c":"odd","u":0.4,"z":0.636},
{"l":"l","c":"odd","u":0.2,"z":0.634},{"l":"l","c":"odd","u":0.4,"z":0.633},
{"l":"m","c":"even","u":0.2,"z":0.624},{"l":"m","c":"even","u":0.4,"z":0.623},
{"l":"n","c":"even","u":0.2,"z":0.6235},{"l":"n","c":"even","u":0.32,"z":0.6225},
{"l":"o","c":"none","u":0.2,"z":0.614},{"l":"o","c":"none","u":0.4,"z":0.614},
{"l":"p","c":"even","u":0.2,"z":0.61},{"l":"p","c":"even","u":0.4,"z":0.609},
{"l":"q","c":"odd","u":0.2,"z":0.618},{"l":"q","c":"odd","u":0.4,"z":0.617},
{"l":"r","c":"odd","u":0.2,"z":0.607},{"l":"r","c":"odd","u":0.4,"z":0.606},
{"l":"s","c":"even","u":0.2,"z":0.604},{"l":"s","c":"even","u":0.4,"z":0.604},
{"l":"t","c":"odd","u":0.2,"z":0.6015},{"l":"t","c":"odd","u":0.4,"z":0.601}
],
"bDot":[{"u":0.231,"z":0.642},{"u":0.244,"z":0.649},{"u":0.28,"z":0.65},{"u":0.308,"z":0.646},{"u":0.276,"z":0.644},{"u":0.287,"z":0.595},{"u":0.298,"z":0.592},{"u":0.317,"z":0.545},{"u":0.202,"z":0.502},{"u":0.221,"z":0.513},{"u":0.254,"z":0.506},{"u":0.278,"z":0.512},{"u":0.247,"z":0.533},{"u":0.297,"z":0.533},{"u":0.384,"z":0.597}],
"cBand":[
{"b":"n","c":"mix","u":0.3,"z":0.62,"z2":0.64},{"b":"n","c":"mix","u":0.32,"z":0.62,"z2":0.64},
{"b":"a","c":"none","u":0.3,"z":0.63897,"z2":0.63915},{"b":"a","c":"none","u":0.32,"z":0.63863,"z2":0.63881},
{"b":"b","c":"even","u":0.3,"z":0.63833,"z2":0.63851},{"b":"b","c":"even","u":0.32,"z":0.63805,"z2":0.63824},
{"b":"c","c":"even","u":0.3,"z":0.63778,"z2":0.63801},{"b":"c","c":"even","u":0.32,"z":0.63746,"z2":0.63771},
{"b":"d","c":"none","u":0.3,"z":0.63629,"z2":0.63638},{"b":"d","c":"none","u":0.32,"z":0.636,"z2":0.6361},
{"b":"e","c":"odd","u":0.3,"z":0.63565,"z2":0.63629},{"b":"e","c":"odd","u":0.32,"z":0.63535,"z2":0.63599},
{"b":"f","c":"even","u":0.3,"z":0.63535,"z2":0.63558},{"b":"f","c":"even","u":0.32,"z":0.63503,"z2":0.6353},
{"b":"g","c":"none","u":0.3,"z":0.63466,"z2":0.63477},{"b":"g","c":"none","u":0.32,"z":0.63448,"z2":0.63461},
{"b":"h","c":"odd","u":0.3,"z":0.63381,"z2":0.63461},{"b":"h","c":"odd","u":0.32,"z":0.6337,"z2":0.63443},
{"b":"i","c":"none","u":0.3,"z":0.63365,"z2":0.63379},{"b":"i","c":"none","u":0.32,"z":0.63342,"z2":0.63358},
{"b":"j","c":"even","u":0.3,"z":0.63227,"z2":0.6325},{"b":"j","c":"even","u":0.32,"z":0.63204,"z2":0.63227},
{"b":"k","c":"odd","u":0.3,"z":0.63181,"z2":0.63223},{"b":"k","c":"odd","u":0.32,"z":0.63168,"z2":0.632},
{"b":"l","c":"none","u":0.3,"z":0.62897,"z2":0.6297},{"b":"l","c":"none","u":0.32,"z":0.62879,"z2":0.6295},
{"b":"m","c":"even","u":0.3,"z":0.62693,"z2":0.62897},{"b":"m","c":"even","u":0.32,"z":0.62677,"z2":0.62879},
{"b":"o","c":"none","u":0.3,"z":0.62663,"z2":0.62693},{"b":"o","c":"none","u":0.32,"z":0.6264,"z2":0.62677},
{"b":"p","c":"even","u":0.3,"z":0.62475,"z2":0.62509},{"b":"p","c":"even","u":0.32,"z":0.62457,"z2":0.62486},
{"b":"q","c":"none","u":0.3,"z":0.62429,"z2":0.6244},{"b":"q","c":"none","u":0.32,"z":0.62406,"z2":0.62418},
{"b":"r","c":"even","u":0.3,"z":0.62356,"z2":0.62424},{"b":"r","c":"even","u":0.32,"z":0.62333,"z2":0.62406},
{"b":"s","c":"odd","u":0.3,"z":0.6228,"z2":0.62349},{"b":"s","c":"odd","u":0.32,"z":0.62268,"z2":0.62333},
{"b":"t","c":"even","u":0.3,"z":0.62262,"z2":0.6228},{"b":"t","c":"even","u":0.32,"z":0.62252,"z2":0.62268}
],
"cThin":[
{"l":"a","c":"even","u":0.3,"z":0.6396},{"l":"a","c":"even","u":0.32,"z":0.6394},
{"l":"b","c":"odd","u":0.3,"z":0.6387},{"l":"b","c":"odd","u":0.32,"z":0.6385},
{"l":"c","c":"odd","u":0.3,"z":0.6373},{"l":"c","c":"odd","u":0.32,"z":0.6371},
{"l":"d","c":"even","u":0.3,"z":0.6371},{"l":"d","c":"even","u":0.32,"z":0.6369},
{"l":"e","c":"none","u":0.3,"z":0.637},{"l":"e","c":"none","u":0.32,"z":0.6368},
{"l":"f","c":"odd","u":0.3,"z":0.6368},{"l":"f","c":"odd","u":0.32,"z":0.6366},
{"l":"g","c":"even","u":0.3,"z":0.6365},{"l":"g","c":"even","u":0.32,"z":0.6364},
{"l":"h","c":"even","u":0.3,"z":0.635},{"l":"h","c":"even","u":0.32,"z":0.6348},
{"l":"i","c":"even","u":0.3,"z":0.6348},{"l":"i","c":"even","u":0.32,"z":0.6346},
{"l":"j","c":"even","u":0.3,"z":0.6333},{"l":"j","c":"even","u":0.32,"z":0.6331},
{"l":"k","c":"odd","u":0.3,"z":0.6331},{"l":"k","c":"odd","u":0.32,"z":0.6329},
{"l":"m","c":"even","u":0.3,"z":0.6329},{"l":"m","c":"even","u":0.32,"z":0.6327},
{"l":"n","c":"none","u":0.3,"z":0.6326},{"l":"n","c":"none","u":0.32,"z":0.6324},
{"l":"o","c":"even","u":0.3,"z":0.6316},{"l":"o","c":"even","u":0.32,"z":0.6314},
{"l":"p","c":"odd","u":0.3,"z":0.6313},{"l":"p","c":"odd","u":0.32,"z":0.6311},
{"l":"q","c":"even","u":0.3,"z":0.631},{"l":"q","c":"even","u":0.32,"z":0.6308},
{"l":"r","c":"none","u":0.3,"z":0.6308},{"l":"r","c":"none","u":0.32,"z":0.6306},
{"l":"s","c":"odd","u":0.3,"z":0.6305},{"l":"s","c":"odd","u":0.32,"z":0.6303},
{"l":"t","c":"even","u":0.3,"z":0.6303},{"l":"t","c":"even","u":0.32,"z":0.6301},
{"l":"v","c":"even","u":0.3,"z":0.63},{"l":"v","c":"even","u":0.32,"z":0.6298},
{"l":"w","c":"even","u":0.3,"z":0.6264},{"l":"w","c":"even","u":0.32,"z":0.6262},
{"l":"x","c":"odd","u":0.3,"z":0.6261},{"l":"x","c":"odd","u":0.32,"z":0.6259},
{"l":"y","c":"even","u":0.3,"z":0.6258},{"l":"y","c":"even","u":0.32,"z":0.6256},
{"l":"z","c":"odd","u":0.3,"z":0.6255},{"l":"z","c":"odd","u":0.32,"z":0.6253},
{"l":"aa","c":"even","u":0.3,"z":0.6246},{"l":"aa","c":"even","u":0.32,"z":0.6244},
{"l":"ab","c":"even","u":0.3,"z":0.6222},{"l":"ab","c":"even","u":0.32,"z":0.6221},
{"l":"ac","c":"odd","u":0.3,"z":0.622},{"l":"ac","c":"odd","u":0.32,"z":0.6218},
{"l":"ad","c":"even","u":0.3,"z":0.6216},{"l":"ad","c":"even","u":0.32,"z":0.6215},
{"l":"ae","c":"none","u":0.3,"z":0.6214},{"l":"ae","c":"none","u":0.32,"z":0.6212},
{"l":"af","c":"odd","u":0.3,"z":0.6212},{"l":"af","c":"odd","u":0.32,"z":0.621},
{"l":"ag","c":"even","u":0.3,"z":0.6208},{"l":"ag","c":"even","u":0.32,"z":0.6206},
{"l":"ah","c":"odd","u":0.3,"z":0.6205},{"l":"ah","c":"odd","u":0.32,"z":0.6204},
{"l":"ai","c":"none","u":0.3,"z":0.6203},{"l":"ai","c":"none","u":0.32,"z":0.6201}
],
"cDot":[{"u":0.3032,"z":0.6289},{"u":0.3017,"z":0.6277},{"u":0.3017,"z":0.6274},{"u":0.3137,"z":0.6281},{"u":0.315,"z":0.6282},{"u":0.315,"z":0.6278},{"u":0.3168,"z":0.6289},{"u":0.316,"z":0.6295},{"u":0.3039,"z":0.6237},{"u":0.3106,"z":0.6236},{"u":0.3069,"z":0.6356},{"u":0.3103,"z":0.6358},{"u":0.312,"z":0.6356}],
"dBand":[
{"b":"n","c":"odd","u":0.3,"z":0.634,"z2":0.636},{"b":"n","c":"odd","u":0.302,"z":0.634,"z2":0.636},
{"b":"a","c":"even","u":0.3,"z":0.63527,"z2":0.63559},{"b":"a","c":"even","u":0.302,"z":0.63525,"z2":0.63556},
{"b":"b","c":"even","u":0.3,"z":0.63502,"z2":0.6351},{"b":"b","c":"even","u":0.302,"z":0.63499,"z2":0.63507},
{"b":"c","c":"even","u":0.3,"z":0.63495,"z2":0.63498},{"b":"c","c":"even","u":0.302,"z":0.63492,"z2":0.63496},
{"b":"d","c":"even","u":0.3,"z":0.63491,"z2":0.63492},{"b":"d","c":"even","u":0.302,"z":0.63488,"z2":0.6349},
{"b":"e","c":"noise","u":0.3,"z":0.63484,"z2":0.63489},{"b":"e","c":"noise","u":0.302,"z":0.63481,"z2":0.63486},
{"b":"f","c":"none","u":0.3,"z":0.63471,"z2":0.63484},{"b":"f","c":"none","u":0.302,"z":0.63468,"z2":0.63481}
],
"dDot":[{"u":0.30025,"z":0.63595},{"u":0.3002,"z":0.63579},{"u":0.30024,"z":0.63567},{"u":0.30136,"z":0.63596},{"u":0.3016,"z":0.63572},{"u":0.30188,"z":0.63562},{"u":0.30103,"z":0.63558},{"u":0.3012,"z":0.63555},{"u":0.30056,"z":0.63545},{"u":0.30056,"z":0.63538},{"u":0.30087,"z":0.63533},{"u":0.30169,"z":0.63547},{"u":0.30073,"z":0.63506},{"u":0.30141,"z":0.63503},{"u":0.30144,"z":0.63472},{"u":0.30014,"z":0.63466},{"u":0.30132,"z":0.63454},{"u":0.30057,"z":0.63426},{"u":0.30048,"z":0.6342},{"u":0.30118,"z":0.6342},{"u":0.30019,"z":0.63406},{"u":0.30168,"z":0.63423},{"u":0.3018,"z":0.63441}]
},
"concat":[
{"width":394,"height":292,"resolve":{"axis":{"x":"independent","y":"independent"}},
"encoding":{"x":{"field":"u","type":"quantitative","axis":null,"scale":{"domain":[-1,1],"nice":false,"zero":false}},"y":{"field":"z","type":"quantitative","axis":null,"scale":{"domain":[0,1],"nice":false,"zero":false}}},
"layer":[
{"data":{"name":"aPoly"},"mark":{"type":"line","interpolate":"linear-closed","strokeWidth":0},"encoding":{"order":{"field":"i"},"detail":{"field":"s"},"fill":{"field":"c","legend":null,"scale":{"domain":["even","odd","none","mix","noise"],"range":["#ff0000","#00ff00","#0000ff","#3f9a2a","#587c4e"]}}}},
{"data":{"name":"aThin"},"mark":{"type":"line","interpolate":"cardinal","strokeWidth":1.1},"encoding":{"order":{"field":"i"},"detail":{"field":"l"},"color":{"field":"c","legend":null,"scale":{"domain":["even","odd","none","mix","noise"],"range":["#ff0000","#00ff00","#0000ff","#3f9a2a","#587c4e"]}}}},
{"data":{"name":"aThick"},"mark":{"type":"line","interpolate":"cardinal","strokeWidth":2.4,"color":"#0000ff"},"encoding":{"order":{"field":"i"},"detail":{"field":"l"}}},
{"data":{"name":"aTori"},"mark":{"type":"line","interpolate":"cardinal-closed","strokeWidth":1.9,"color":"#ffff00"},"encoding":{"order":{"field":"i"},"detail":{"field":"l"}}},
{"data":{"values":[{"u":0.2,"u2":0.4,"z":0.5,"z2":0.7}]},"mark":{"type":"rect","fill":null,"stroke":"#ffffff","strokeWidth":1.8},"encoding":{"x2":{"field":"u2"},"y2":{"field":"z2"}}},
{"data":{"values":[{}]},"mark":{"type":"rule","color":"#808080","strokeWidth":2.5},"encoding":{"x":{"value":-149},"y":{"value":-36},"y2":{"value":841}}},
{"data":{"values":[{}]},"mark":{"type":"rule","color":"#808080","strokeWidth":2.5},"encoding":{"x":{"value":-150},"x2":{"value":1006},"y":{"value":-36}}},
{"data":{"values":[{}]},"mark":{"type":"rule","color":"#808080","strokeWidth":2.5},"encoding":{"x":{"value":1004.5},"y":{"value":-36},"y2":{"value":841}}},
{"data":{"values":[{"u":0,"z":0}]},"mark":{"type":"point","opacity":0},"encoding":{"x":{"field":"u","type":"quantitative","axis":{"values":[-1,-0.5,0,0.5,1],"title":"u","titleY":42}},"y":{"field":"z","type":"quantitative","axis":{"values":[0,0.25,0.5,0.75,1],"title":"z","titleX":-77,"titleY":146}}}},
{"data":{"values":[{"u":0,"z":0}]},"mark":{"type":"point","opacity":0},"encoding":{"x":{"field":"u","type":"quantitative","axis":{"orient":"top","values":[-1,-0.5,0,0.5,1],"labels":false,"title":null}},"y":{"field":"z","type":"quantitative","axis":{"orient":"right","values":[0,0.25,0.5,0.75,1],"labels":false,"title":null}}}}
]},
{"width":395,"height":292,"resolve":{"axis":{"x":"independent","y":"independent"}},
"encoding":{"x":{"field":"u","type":"quantitative","axis":null,"scale":{"domain":[0.2,0.4],"nice":false,"zero":false}},"y":{"field":"z","type":"quantitative","axis":null,"scale":{"domain":[0.5,0.7],"nice":false,"zero":false}}},
"layer":[
{"data":{"name":"bBand"},"mark":{"type":"area","clip":true},"encoding":{"y2":{"field":"z2"},"detail":{"field":"b"},"color":{"field":"c","legend":null,"scale":{"domain":["even","odd","none","mix","noise"],"range":["#ff0000","#00ff00","#0000ff","#3f9a2a","#4a8a3c"]}}}},
{"data":{"name":"bThin"},"mark":{"type":"line","strokeWidth":1.1,"clip":true,"opacity":0.8},"encoding":{"detail":{"field":"l"},"color":{"field":"c","legend":null,"scale":{"domain":["even","odd","none","mix","noise"],"range":["#ff0000","#00ff00","#0000ff","#3f9a2a","#4a8a3c"]}}}},
{"data":{"name":"bDot"},"mark":{"type":"point","filled":true,"color":"#ffffff","size":4,"opacity":0.9}},
{"data":{"values":[{"u":0.3,"u2":0.32,"z":0.62,"z2":0.64}]},"mark":{"type":"rect","fill":null,"stroke":"#ffffff","strokeWidth":1.8},"encoding":{"x2":{"field":"u2"},"y2":{"field":"z2"}}},
{"data":{"values":[{"u":0.3,"z":0.6}]},"mark":{"type":"point","opacity":0},"encoding":{"x":{"field":"u","type":"quantitative","axis":{"values":[0.2,0.25,0.3,0.35,0.4],"title":"u","titleY":42}},"y":{"field":"z","type":"quantitative","axis":{"values":[0.5,0.55,0.6,0.65,0.7],"title":"z","titleX":-76,"titleY":146}}}},
{"data":{"values":[{"u":0.3,"z":0.6}]},"mark":{"type":"point","opacity":0},"encoding":{"x":{"field":"u","type":"quantitative","axis":{"orient":"top","values":[0.2,0.25,0.3,0.35,0.4],"labels":false,"title":null}},"y":{"field":"z","type":"quantitative","axis":{"orient":"right","values":[0.5,0.55,0.6,0.65,0.7],"labels":false,"title":null}}}}
]},
{"width":394,"height":292,"resolve":{"axis":{"x":"independent","y":"independent"}},
"encoding":{"x":{"field":"u","type":"quantitative","axis":null,"scale":{"domain":[0.3,0.32],"range":[10,394],"nice":false,"zero":false}},"y":{"field":"z","type":"quantitative","axis":null,"scale":{"domain":[0.62,0.64],"range":[291,1],"nice":false,"zero":false}}},
"layer":[
{"data":{"name":"cBand"},"mark":{"type":"area","clip":true},"encoding":{"y2":{"field":"z2"},"detail":{"field":"b"},"color":{"field":"c","legend":null,"scale":{"domain":["even","odd","none","mix","noise"],"range":["#ff0000","#00ff00","#0000ff","#4f9430","#4f8442"]}}}},
{"data":{"name":"cThin"},"mark":{"type":"line","strokeWidth":1.1,"clip":true,"opacity":0.8},"encoding":{"detail":{"field":"l"},"color":{"field":"c","legend":null,"scale":{"domain":["even","odd","none","mix","noise"],"range":["#ff0000","#00ff00","#0000ff","#4f9430","#4f8442"]}}}},
{"data":{"name":"cDot"},"mark":{"type":"point","filled":true,"color":"#ffffff","size":4,"opacity":0.9}},
{"data":{"values":[{"u":0.3,"u2":0.302,"z":0.634,"z2":0.636}]},"mark":{"type":"rect","fill":null,"stroke":"#111111","strokeWidth":1.8},"encoding":{"x2":{"field":"u2"},"y2":{"field":"z2"}}},
{"data":{"values":[{"u":0.31,"z":0.63}]},"mark":{"type":"point","opacity":0},"encoding":{"x":{"field":"u","type":"quantitative","axis":{"values":[0.3,0.305,0.31,0.315,0.32],"title":"u","titleY":40,"offset":-1}},"y":{"field":"z","type":"quantitative","axis":{"values":[0.62,0.625,0.63,0.635,0.64],"title":"z","titleX":-87,"titleY":146,"offset":-10}}}},
{"data":{"values":[{"u":0.31,"z":0.63}]},"mark":{"type":"point","opacity":0},"encoding":{"x":{"field":"u","type":"quantitative","axis":{"orient":"top","values":[0.3,0.305,0.31,0.315,0.32],"labels":false,"title":null,"offset":-1}},"y":{"field":"z","type":"quantitative","axis":{"orient":"right","values":[0.62,0.625,0.63,0.635,0.64],"labels":false,"title":null}}}}
]},
{"width":395,"height":292,"resolve":{"axis":{"x":"independent","y":"independent"}},
"encoding":{"x":{"field":"u","type":"quantitative","axis":null,"scale":{"domain":[0.3,0.302],"range":[21,395],"nice":false,"zero":false}},"y":{"field":"z","type":"quantitative","axis":null,"scale":{"domain":[0.634,0.636],"nice":false,"zero":false}}},
"layer":[
{"data":{"name":"dBand"},"mark":{"type":"area","clip":true},"encoding":{"y2":{"field":"z2"},"detail":{"field":"b"},"color":{"field":"c","legend":null,"scale":{"domain":["even","odd","none","mix","noise"],"range":["#ff0000","#00ff00","#0000ff","#3f9a2a","#6f8f20"]}}}},
{"data":{"name":"dDot"},"mark":{"type":"point","filled":true,"color":"#ffffff","size":3,"opacity":0.8}},
{"data":{"values":[{"u":0.301,"z":0.635}]},"mark":{"type":"point","opacity":0},"encoding":{"x":{"field":"u","type":"quantitative","axis":{"values":[0.3,0.3005,0.301,0.3015,0.302],"title":"u","titleY":39,"domainWidth":2.6}},"y":{"field":"z","type":"quantitative","axis":{"values":[0.634,0.6345,0.635,0.6355,0.636],"title":"z","titleX":-97,"titleY":146,"offset":-21,"domainWidth":2.6}}}},
{"data":{"values":[{"u":0.301,"z":0.635}]},"mark":{"type":"point","opacity":0},"encoding":{"x":{"field":"u","type":"quantitative","axis":{"orient":"top","values":[0.3,0.3005,0.301,0.3015,0.302],"labels":false,"title":null,"domainWidth":2.6}},"y":{"field":"z","type":"quantitative","axis":{"orient":"right","values":[0.634,0.6345,0.635,0.6355,0.636],"labels":false,"title":null,"domainWidth":2.6}}}}
]},
{"width":394,"height":96,
"encoding":{"y":{"field":"line","type":"ordinal","axis":null,"scale":{"type":"band","domain":[1,2,3,4],"paddingInner":0,"paddingOuter":0}},"text":{"field":"t"}},
"layer":[
{"data":{"values":[{"line":1,"t":"Figure 4."}]},"mark":{"type":"text","align":"left","font":"Liberation Serif","fontSize":20,"fontWeight":"bold","color":"#222"},"encoding":{"x":{"value":-121}}},
{"data":{"values":[{"line":1,"t":"Basin of attraction for bouncing on the double wedge. Color coding indicates whether the ball makes an odd (green) or"}]},"mark":{"type":"text","align":"left","font":"Liberation Serif","fontSize":21,"color":"#222"},"encoding":{"x":{"value":-31}}},
{"data":{"values":[{"line":2,"t":"even (red) number of bounces on the wedges before its energy settles below 0.1. The ball is initiated at an initial energy of"},{"line":3,"t":"Simulations started from the blue regions do not settle in 500 iterations. Boxes mark the regions blown up in the subsequent"},{"line":4,"t":"magnifications. In (a), a set of tori is also shown in yellow."}]},"mark":{"type":"text","align":"left","font":"Liberation Serif","fontSize":20.8,"color":"#222"},"encoding":{"x":{"value":-121}}},
{"data":{"values":[{"line":2,"t":"E"}]},"mark":{"type":"text","align":"left","font":"Liberation Serif","fontSize":21,"fontStyle":"italic","color":"#222"},"encoding":{"x":{"value":910}}},
{"data":{"values":[{"line":2,"t":"0"}]},"mark":{"type":"text","align":"left","font":"Liberation Serif","fontSize":14,"dy":4,"color":"#222"},"encoding":{"x":{"value":922}}},
{"data":{"values":[{"line":2,"t":"= 1."}]},"mark":{"type":"text","align":"left","font":"Liberation Serif","fontSize":21,"color":"#222"},"encoding":{"x":{"value":939}}}
]}
]}
